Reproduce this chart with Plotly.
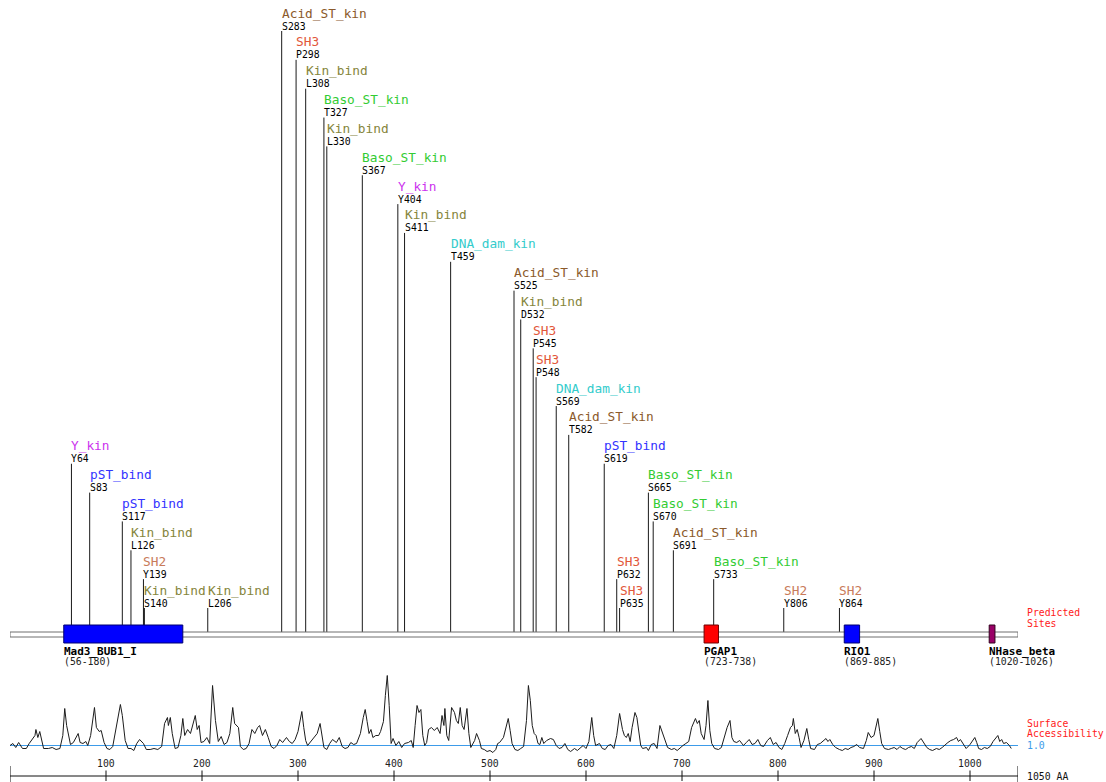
import plotly.graph_objects as go

# ---------------- data ----------------
protein_length = 1050

site_labels = ["Y64", "S83", "S117", "L126", "Y139", "S140", "L206", "S283", "P298",
               "L308", "T327", "L330", "S367", "Y404", "S411", "T459", "S525", "D532",
               "P545", "P548", "S569", "T582", "S619", "P632", "P635", "S665", "S670",
               "S691", "S733", "Y806", "Y864"]
site_motifs = ["Y_kin", "pST_bind", "pST_bind", "Kin_bind", "SH2", "Kin_bind", "Kin_bind",
               "Acid_ST_kin", "SH3", "Kin_bind", "Baso_ST_kin", "Kin_bind", "Baso_ST_kin",
               "Y_kin", "Kin_bind", "DNA_dam_kin", "Acid_ST_kin", "Kin_bind", "SH3", "SH3",
               "DNA_dam_kin", "Acid_ST_kin", "pST_bind", "SH3", "SH3", "Baso_ST_kin",
               "Baso_ST_kin", "Acid_ST_kin", "Baso_ST_kin", "SH2", "SH2"]

domain_names = ["Mad3_BUB1_I", "PGAP1", "RIO1", "NHase_beta"]
domain_starts = [56, 723, 869, 1020]
domain_ends = [180, 738, 885, 1026]

ruler_ticks = [100, 200, 300, 400, 500, 600, 700, 800, 900, 1000]

# surface accessibility profile (residue, value), 1.0 = reference level
accessibility = [
    (0, 1.00), (3, 1.10), (6, 0.90), (9, 1.15), (13, 0.85), (17, 0.85), (20, 1.10), (23, 1.30),
    (26, 1.50), (27, 1.80), (29, 1.40), (31, 1.70), (33, 1.30), (35, 0.85), (40, 0.85), (44, 0.90),
    (48, 0.80), (52, 0.85), (55, 1.50), (57, 2.85), (59, 2.00), (63, 1.05), (66, 1.15), (69, 1.40),
    (71, 1.60), (73, 1.15), (76, 1.10), (79, 1.20), (81, 1.00), (84, 1.50), (88, 2.90), (90, 1.90),
    (93, 1.70), (95, 1.75), (98, 1.15), (101, 0.85), (104, 0.80), (107, 0.95), (111, 2.00),
    (115, 3.05), (117, 2.50), (120, 1.25), (123, 0.85), (126, 0.85), (129, 0.75), (132, 1.10),
    (135, 1.30), (139, 1.10), (142, 0.80), (146, 0.80), (150, 0.85), (154, 0.80), (158, 0.95),
    (161, 2.10), (164, 2.40), (165, 2.00), (167, 2.40), (169, 1.60), (172, 0.85), (175, 0.90),
    (178, 1.50), (180, 2.35), (182, 1.50), (185, 1.80), (188, 1.60), (191, 2.10), (193, 2.50),
    (195, 1.80), (197, 2.00), (199, 1.15), (202, 1.20), (205, 1.40), (208, 1.10), (211, 4.00),
    (214, 2.25), (217, 1.20), (220, 1.45), (223, 1.05), (226, 1.15), (229, 1.60), (232, 2.90),
    (234, 2.10), (238, 1.90), (240, 0.95), (243, 0.80), (246, 0.85), (249, 1.10), (252, 1.80),
    (255, 1.60), (258, 1.90), (260, 2.00), (263, 1.50), (266, 1.80), (269, 1.40), (272, 0.95),
    (275, 0.85), (278, 1.00), (281, 1.30), (284, 1.15), (288, 1.40), (291, 1.20), (294, 1.10),
    (297, 1.30), (300, 1.70), (304, 2.70), (306, 1.90), (308, 1.25), (310, 1.00), (314, 1.25),
    (317, 1.45), (320, 1.60), (323, 2.10), (325, 1.50), (327, 0.90), (330, 0.80), (333, 1.10),
    (336, 1.30), (340, 1.15), (343, 1.40), (346, 0.95), (349, 0.85), (352, 0.90), (355, 1.15),
    (358, 1.05), (361, 1.10), (365, 1.60), (368, 2.40), (370, 2.80), (372, 2.20), (374, 1.60),
    (376, 1.80), (378, 1.40), (381, 1.50), (384, 1.50), (386, 1.70), (389, 2.20), (391, 3.50),
    (393, 4.50), (395, 3.00), (397, 1.10), (399, 1.35), (402, 1.00), (405, 1.20), (408, 0.90),
    (411, 1.10), (415, 1.15), (418, 1.25), (420, 0.90), (422, 2.00), (424, 3.00), (426, 2.65),
    (428, 2.80), (430, 1.50), (432, 1.00), (434, 1.15), (436, 1.80), (439, 1.90), (442, 1.75),
    (445, 1.90), (448, 1.60), (450, 2.50), (452, 2.00), (453, 2.85), (455, 1.50), (457, 1.25),
    (460, 2.90), (463, 2.65), (465, 2.25), (467, 2.10), (469, 2.90), (471, 2.00), (473, 1.80),
    (476, 2.85), (478, 1.60), (480, 0.90), (482, 1.05), (484, 1.25), (486, 1.60), (489, 1.25),
    (491, 0.85), (494, 0.80), (497, 0.70), (500, 0.75), (503, 0.65), (506, 0.80), (508, 1.10),
    (510, 1.15), (514, 1.40), (517, 1.90), (519, 2.35), (521, 1.75), (523, 1.10), (526, 0.80),
    (529, 0.75), (532, 0.85), (535, 0.95), (538, 2.25), (540, 4.00), (542, 3.25), (544, 2.00),
    (546, 1.60), (548, 1.50), (550, 1.10), (552, 1.05), (554, 1.40), (556, 1.10), (559, 1.25),
    (563, 1.35), (566, 1.30), (569, 1.00), (572, 0.85), (575, 0.90), (578, 1.10), (581, 0.80),
    (584, 0.70), (588, 0.85), (591, 0.75), (594, 0.90), (597, 1.00), (600, 0.85), (603, 1.20),
    (606, 2.40), (608, 1.50), (610, 1.00), (614, 1.10), (617, 0.85), (620, 0.80), (623, 1.00),
    (626, 1.05), (629, 0.85), (632, 1.50), (635, 2.60), (638, 1.80), (640, 1.50), (642, 1.40),
    (644, 1.60), (646, 1.20), (648, 1.90), (651, 2.65), (653, 2.40), (655, 1.60), (657, 1.00),
    (659, 0.85), (663, 0.90), (665, 0.75), (668, 1.05), (671, 1.10), (674, 0.85), (677, 2.00),
    (679, 1.70), (681, 1.50), (683, 1.10), (685, 0.90), (689, 0.80), (692, 0.85), (695, 0.75),
    (698, 0.90), (701, 1.00), (704, 1.10), (707, 1.20), (710, 1.90), (714, 2.35), (716, 2.10),
    (718, 2.25), (720, 1.60), (723, 1.30), (725, 2.00), (727, 3.25), (729, 1.75), (731, 1.10),
    (734, 0.85), (738, 0.80), (741, 0.90), (743, 1.25), (745, 1.50), (747, 1.90), (750, 2.25),
    (752, 1.40), (754, 1.20), (757, 1.15), (760, 1.25), (764, 1.00), (767, 1.15), (770, 1.30),
    (773, 1.05), (776, 1.10), (779, 1.30), (782, 1.00), (785, 0.95), (789, 1.25), (792, 1.40),
    (795, 1.05), (798, 1.15), (801, 0.90), (804, 0.80), (807, 1.10), (810, 1.50), (813, 1.90),
    (815, 2.00), (816, 2.35), (818, 1.60), (820, 1.80), (822, 1.40), (824, 0.90), (827, 1.25),
    (830, 1.85), (832, 1.30), (834, 0.85), (838, 0.80), (841, 1.05), (844, 1.10), (847, 1.25),
    (850, 1.35), (852, 1.20), (854, 1.30), (857, 1.05), (860, 0.90), (864, 0.80), (867, 0.75),
    (870, 0.85), (873, 0.80), (876, 0.90), (879, 0.95), (882, 1.05), (885, 0.90), (889, 0.85),
    (892, 1.25), (894, 1.65), (897, 1.40), (900, 1.50), (902, 1.90), (904, 2.35), (906, 1.70),
    (908, 1.10), (911, 0.85), (915, 0.80), (918, 0.85), (921, 0.90), (924, 0.80), (927, 0.95),
    (930, 0.85), (933, 0.80), (936, 0.90), (939, 0.95), (942, 0.85), (945, 1.15), (949, 1.35),
    (952, 1.15), (955, 0.90), (958, 0.80), (961, 0.75), (965, 0.85), (968, 0.80), (971, 0.90),
    (974, 1.05), (977, 1.15), (980, 1.25), (983, 1.30), (986, 1.40), (988, 1.20), (990, 1.30),
    (993, 1.10), (996, 0.85), (1000, 1.05), (1003, 1.25), (1005, 1.40), (1007, 1.15), (1009, 0.85),
    (1012, 0.80), (1015, 0.90), (1018, 0.85), (1021, 0.95), (1024, 1.20), (1027, 1.35), (1029, 1.50),
    (1031, 1.20), (1033, 1.30), (1035, 1.10), (1038, 1.15), (1041, 1.00), (1043, 0.85),
]
acc_residues = [r for r, _ in accessibility]
acc_values = [v for _, v in accessibility]

# ---------------- styles / layout constants ----------------
W, H = 1106, 782
X_LEFT_PX, X_RIGHT_PX = 10, 1018
PX_PER_RES = (X_RIGHT_PX - X_LEFT_PX) / protein_length
MONO = "DejaVu Sans Mono"

motif_colors = {
    "Acid_ST_kin": "#8B5A2B",
    "SH3": "#E2573A",
    "Kin_bind": "#85853C",
    "Baso_ST_kin": "#33CC33",
    "Y_kin": "#CC33EE",
    "DNA_dam_kin": "#33CCCC",
    "pST_bind": "#3333FF",
    "SH2": "#C87A5A",
}
domain_fill = {"Mad3_BUB1_I": "#0000FF", "PGAP1": "#FF0000", "RIO1": "#0000FF", "NHase_beta": "#990066"}
domain_edge = {"Mad3_BUB1_I": "#000070", "PGAP1": "#700000", "RIO1": "#000070", "NHase_beta": "#33001f"}

NAME_SIZE = 12.8
SMALL_SIZE = 9.8
CHAR_W = 7.6
MAX_LEVEL = 20
LEVEL_TOP = 13.0
LEVEL_PITCH = 28.85
BACKBONE_TOP, BACKBONE_BOT = 632, 637
DOMAIN_TOP, DOMAIN_BOT = 625, 643

# ---------------- stack site labels (greedy, right to left) ----------------
positions = [int(s[1:]) for s in site_labels]
n = len(positions)
levels = [None] * n
placed = []
for i in sorted(range(n), key=lambda k: -positions[k]):
    x0 = positions[i] * PX_PER_RES
    w = len(site_motifs[i]) * CHAR_W
    lev = 0
    for L in range(MAX_LEVEL, -1, -1):
        ok = True
        for j in placed:
            xj = positions[j] * PX_PER_RES
            if x0 < xj < x0 + w and levels[j] <= L:
                ok = False
                break
        if ok:
            lev = L
            break
    levels[i] = lev
    placed.append(i)

fig = go.Figure()

# site stems
sx, sy = [], []
for p, L in zip(positions, levels):
    top = LEVEL_TOP + LEVEL_PITCH * L + 18
    sx += [p, p, None]
    sy += [top, BACKBONE_TOP, None]
fig.add_trace(go.Scatter(x=sx, y=sy, mode="lines", line=dict(color="#1a1a1a", width=1),
                         hoverinfo="skip", showlegend=False, cliponaxis=False))

# ruler
rx = [0, protein_length, None]
ry = [776, 776, None]
for t in ruler_ticks:
    rx += [t, t, None]
    ry += [770.5, 781, None]
for t in [0, protein_length]:
    rx += [t, t, None]
    ry += [766, 782, None]
fig.add_trace(go.Scatter(x=rx, y=ry, mode="lines", line=dict(color="#111111", width=1),
                         hoverinfo="skip", showlegend=False, cliponaxis=False))

# accessibility baseline + profile
fig.add_trace(go.Scatter(x=[0, protein_length], y=[1.0, 1.0], yaxis="y2", mode="lines",
                         line=dict(color="#3d9be9", width=1), hoverinfo="skip",
                         showlegend=False, cliponaxis=False))
fig.add_trace(go.Scatter(x=acc_residues, y=acc_values, yaxis="y2", mode="lines",
                         line=dict(color="#1c1c1c", width=1), hoverinfo="skip",
                         showlegend=False, cliponaxis=False))

shapes = []
# backbone
shapes.append(dict(type="rect", xref="x", yref="y", x0=0, x1=protein_length,
                   y0=BACKBONE_TOP, y1=BACKBONE_BOT, fillcolor="#ffffff",
                   line=dict(color="#6e6e6e", width=1), layer="above"))
# domains
for nm, s, e in zip(domain_names, domain_starts, domain_ends):
    shapes.append(dict(type="rect", xref="x", yref="y", x0=s, x1=e, y0=DOMAIN_TOP, y1=DOMAIN_BOT,
                       fillcolor=domain_fill[nm], line=dict(color=domain_edge[nm], width=1),
                       layer="above"))

ann = []


def label(x, y, text, size, color, xref="x", yref="y", anchor="left", bold=False):
    ann.append(dict(x=x, y=y, xref=xref, yref=yref, text=f"<b>{text}</b>" if bold else text,
                    showarrow=False, xanchor=anchor, yanchor="middle", borderpad=0,
                    xshift=-1 if anchor == "left" else 0,
                    font=dict(family=MONO, size=size, color=color)))


for p, L, s, m in zip(positions, levels, site_labels, site_motifs):
    ny = LEVEL_TOP + LEVEL_PITCH * L
    label(p, ny, m, NAME_SIZE, motif_colors[m])
    label(p, ny + 13, s, SMALL_SIZE, "#000000")

for nm, s, e in zip(domain_names, domain_starts, domain_ends):
    label(s, 651, nm, 11, "#000000", bold=True)
    label(s, 661, f"({s}-{e})", SMALL_SIZE, "#222222")

for t in ruler_ticks:
    label(t, 763, str(t), SMALL_SIZE, "#222222", anchor="center")

side_x = 1027 / W
label(side_x, 612, "Predicted", SMALL_SIZE, "#FF2020", xref="paper")
label(side_x, 623, "Sites", SMALL_SIZE, "#FF2020", xref="paper")
label(side_x, 723, "Surface", SMALL_SIZE, "#FF2020", xref="paper")
label(side_x, 733.5, "Accessibility", SMALL_SIZE, "#FF2020", xref="paper")
label(side_x, 1.0, "1.0", SMALL_SIZE, "#3d9be9", xref="paper", yref="y2")
label(side_x, 776, f"{protein_length} AA", SMALL_SIZE, "#111111", xref="paper")

# accessibility axis: value 1.0 at pixel row 745.5, 20 px per unit
ACC_BASE_PX, ACC_PX_PER_UNIT = 745.5, 20.0
acc_top = 1.0 + ACC_BASE_PX / ACC_PX_PER_UNIT
acc_bot = 1.0 - (H - ACC_BASE_PX) / ACC_PX_PER_UNIT

fig.update_layout(
    width=W, height=H,
    margin=dict(l=0, r=0, t=0, b=0, pad=0),
    paper_bgcolor="white", plot_bgcolor="white",
    showlegend=False,
    xaxis=dict(domain=[X_LEFT_PX / W, X_RIGHT_PX / W], range=[0, protein_length],
               visible=False, fixedrange=True),
    yaxis=dict(domain=[0, 1], range=[H, 0], visible=False, fixedrange=True),
    yaxis2=dict(domain=[0, 1], range=[acc_bot, acc_top], overlaying="y", visible=False,
                fixedrange=True),
    shapes=shapes,
    annotations=ann,
)

fig.write_html("out.html", config={"displayModeBar": False},
               post_script="document.body.style.margin='0';document.body.style.overflow='hidden';")
